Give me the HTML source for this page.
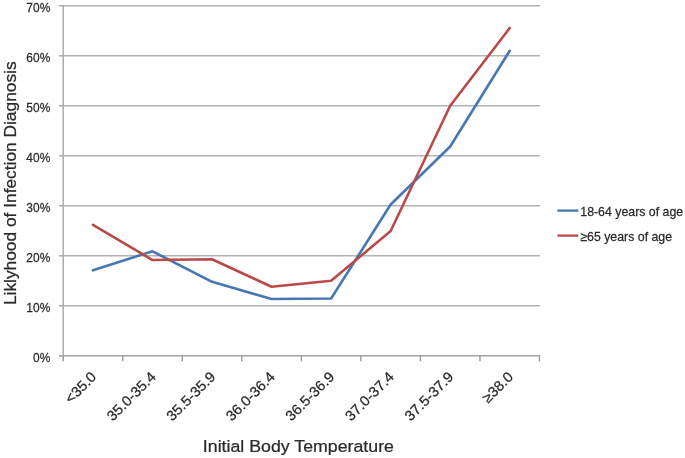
<!DOCTYPE html>
<html><head><meta charset="utf-8"><style>
html,body{margin:0;padding:0;background:#fff;width:685px;height:458px;overflow:hidden}
svg{display:block;filter:blur(0.35px)}
text{font-family:"Liberation Sans",sans-serif;fill:#2a2a2a;stroke:#2a2a2a;stroke-width:0.25px}
</style></head><body>
<svg width="685" height="458" viewBox="0 0 685 458">
<rect width="685" height="458" fill="#fff"/>
<line x1="63" y1="305.80" x2="540" y2="305.80" stroke="#b3b3b3" stroke-width="1.4"/>
<line x1="63" y1="255.80" x2="540" y2="255.80" stroke="#b3b3b3" stroke-width="1.4"/>
<line x1="63" y1="205.80" x2="540" y2="205.80" stroke="#b3b3b3" stroke-width="1.4"/>
<line x1="63" y1="155.80" x2="540" y2="155.80" stroke="#b3b3b3" stroke-width="1.4"/>
<line x1="63" y1="105.80" x2="540" y2="105.80" stroke="#b3b3b3" stroke-width="1.4"/>
<line x1="63" y1="55.80" x2="540" y2="55.80" stroke="#b3b3b3" stroke-width="1.4"/>
<line x1="63" y1="5.80" x2="540" y2="5.80" stroke="#b3b3b3" stroke-width="1.4"/>
<line x1="63.2" y1="5" x2="63.2" y2="355.80" stroke="#a6a6a6" stroke-width="1.4"/>
<line x1="59" y1="355.80" x2="63.2" y2="355.80" stroke="#a6a6a6" stroke-width="1.4"/>
<line x1="59" y1="305.80" x2="63.2" y2="305.80" stroke="#a6a6a6" stroke-width="1.4"/>
<line x1="59" y1="255.80" x2="63.2" y2="255.80" stroke="#a6a6a6" stroke-width="1.4"/>
<line x1="59" y1="205.80" x2="63.2" y2="205.80" stroke="#a6a6a6" stroke-width="1.4"/>
<line x1="59" y1="155.80" x2="63.2" y2="155.80" stroke="#a6a6a6" stroke-width="1.4"/>
<line x1="59" y1="105.80" x2="63.2" y2="105.80" stroke="#a6a6a6" stroke-width="1.4"/>
<line x1="59" y1="55.80" x2="63.2" y2="55.80" stroke="#a6a6a6" stroke-width="1.4"/>
<line x1="59" y1="5.80" x2="63.2" y2="5.80" stroke="#a6a6a6" stroke-width="1.4"/>
<line x1="59" y1="355.80" x2="540" y2="355.80" stroke="#a6a6a6" stroke-width="1.4"/>
<line x1="63.20" y1="355.80" x2="63.20" y2="361.30" stroke="#999" stroke-width="1.4"/>
<line x1="122.74" y1="355.80" x2="122.74" y2="361.30" stroke="#999" stroke-width="1.4"/>
<line x1="182.28" y1="355.80" x2="182.28" y2="361.30" stroke="#999" stroke-width="1.4"/>
<line x1="241.81" y1="355.80" x2="241.81" y2="361.30" stroke="#999" stroke-width="1.4"/>
<line x1="301.35" y1="355.80" x2="301.35" y2="361.30" stroke="#999" stroke-width="1.4"/>
<line x1="360.89" y1="355.80" x2="360.89" y2="361.30" stroke="#999" stroke-width="1.4"/>
<line x1="420.43" y1="355.80" x2="420.43" y2="361.30" stroke="#999" stroke-width="1.4"/>
<line x1="479.96" y1="355.80" x2="479.96" y2="361.30" stroke="#999" stroke-width="1.4"/>
<line x1="539.50" y1="355.80" x2="539.50" y2="361.30" stroke="#999" stroke-width="1.4"/>
<polyline points="92.97,270.30 152.51,251.30 212.04,281.80 271.58,299.05 331.12,298.55 390.66,204.55 450.19,146.55 509.73,50.80" fill="none" stroke="#4777b3" stroke-width="2.6" stroke-linejoin="round" stroke-linecap="round"/>
<polyline points="92.97,224.80 152.51,260.05 212.04,259.30 271.58,286.80 331.12,280.80 390.66,231.05 450.19,105.80 509.73,28.05" fill="none" stroke="#b94a48" stroke-width="2.6" stroke-linejoin="round" stroke-linecap="round"/>
<text x="0" y="0" transform="translate(50.3,361.70) scale(0.92,1)" text-anchor="end" font-size="13">0%</text>
<text x="0" y="0" transform="translate(50.3,311.70) scale(0.92,1)" text-anchor="end" font-size="13">10%</text>
<text x="0" y="0" transform="translate(50.3,261.70) scale(0.92,1)" text-anchor="end" font-size="13">20%</text>
<text x="0" y="0" transform="translate(50.3,211.70) scale(0.92,1)" text-anchor="end" font-size="13">30%</text>
<text x="0" y="0" transform="translate(50.3,161.70) scale(0.92,1)" text-anchor="end" font-size="13">40%</text>
<text x="0" y="0" transform="translate(50.3,111.70) scale(0.92,1)" text-anchor="end" font-size="13">50%</text>
<text x="0" y="0" transform="translate(50.3,61.70) scale(0.92,1)" text-anchor="end" font-size="13">60%</text>
<text x="0" y="0" transform="translate(50.3,11.70) scale(0.92,1)" text-anchor="end" font-size="13">70%</text>
<text x="0" y="0" transform="translate(97.17,377.80) rotate(-45) scale(1.03,1)" text-anchor="end" font-size="14.3">&lt;35.0</text>
<text x="0" y="0" transform="translate(156.71,377.80) rotate(-45) scale(1.03,1)" text-anchor="end" font-size="14.3">35.0-35.4</text>
<text x="0" y="0" transform="translate(216.24,377.80) rotate(-45) scale(1.03,1)" text-anchor="end" font-size="14.3">35.5-35.9</text>
<text x="0" y="0" transform="translate(275.78,377.80) rotate(-45) scale(1.03,1)" text-anchor="end" font-size="14.3">36.0-36.4</text>
<text x="0" y="0" transform="translate(335.32,377.80) rotate(-45) scale(1.03,1)" text-anchor="end" font-size="14.3">36.5-36.9</text>
<text x="0" y="0" transform="translate(394.86,377.80) rotate(-45) scale(1.03,1)" text-anchor="end" font-size="14.3">37.0-37.4</text>
<text x="0" y="0" transform="translate(454.39,377.80) rotate(-45) scale(1.03,1)" text-anchor="end" font-size="14.3">37.5-37.9</text>
<text x="0" y="0" transform="translate(513.93,377.80) rotate(-45) scale(1.03,1)" text-anchor="end" font-size="14.3">≥38.0</text>
<text x="0" y="0" transform="translate(15.6,183.25) rotate(-90) scale(1.02,1)" text-anchor="middle" font-size="17">Liklyhood of Infection Diagnosis</text>
<text x="0" y="0" transform="translate(298.4,451.7) scale(1.045,1)" text-anchor="middle" font-size="17">Initial Body Temperature</text>
<line x1="557.4" y1="210.6" x2="578.3" y2="210.6" stroke="#4777b3" stroke-width="2.3"/>
<line x1="557.4" y1="235.6" x2="578.3" y2="235.6" stroke="#b94a48" stroke-width="2.3"/>
<text x="0" y="0" transform="translate(580.3,216.2) scale(0.95,1)" font-size="13">18-64 years of age</text>
<text x="0" y="0" transform="translate(580.3,241.2) scale(0.95,1)" font-size="13">≥65 years of age</text>
</svg>
</body></html>
